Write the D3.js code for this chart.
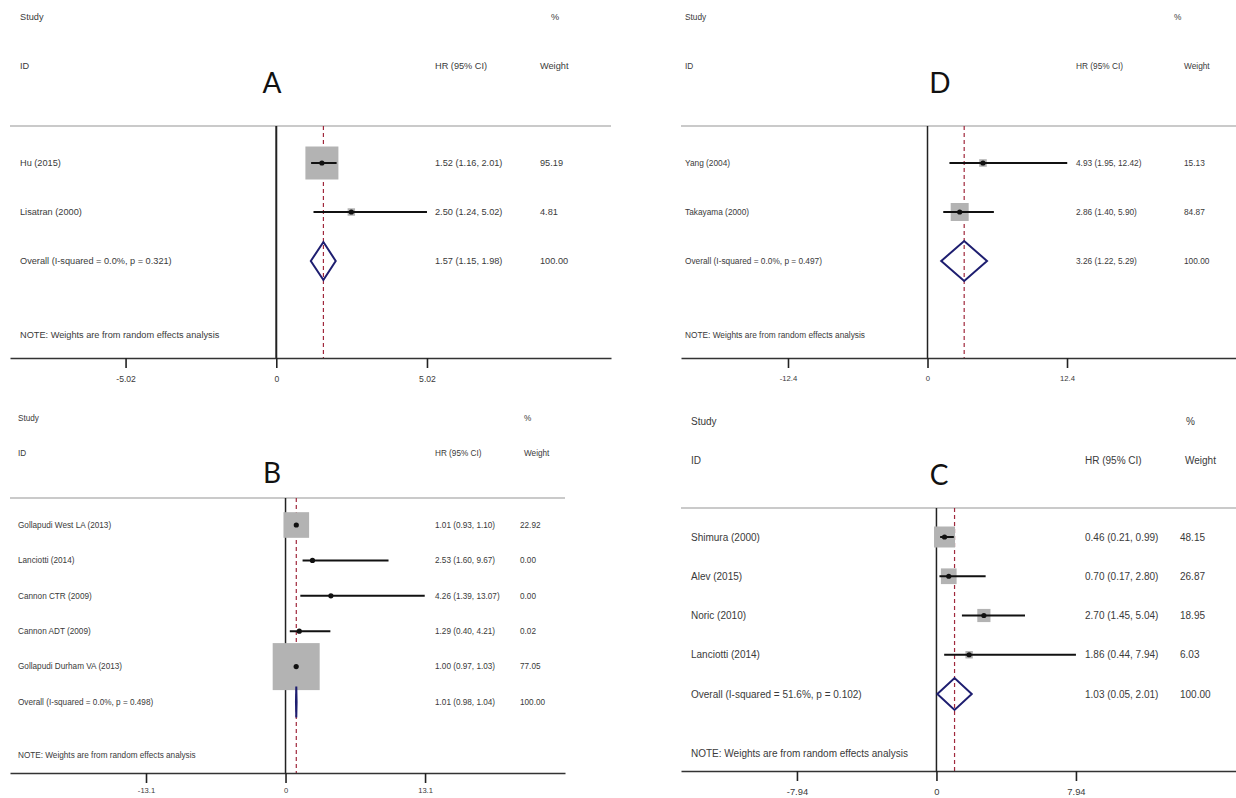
<!DOCTYPE html>
<html>
<head>
<meta charset="utf-8">
<script src="https://cdn.jsdelivr.net/npm/d3@7.9.0/dist/d3.min.js"></script>
<style>
  body { margin: 0; background: #fff; }
  svg { display: block; font-family: "Liberation Sans", Arial, sans-serif; }
  .txt { fill: #3a3a3a; }
  .letter { font-family: Lato, "Open Sans", sans-serif; fill: #111; }
</style>
</head>
<body>
<svg id="chart" width="1236" height="798"></svg>
<script>
/* ---------- data: panel A ---------- */
const studiesA = ["Hu (2015)", "Lisatran (2000)"];
const hrA      = [1.52, 2.50];
const lowA     = [1.16, 1.24];
const highA    = [2.01, 5.02];
const weightA  = [95.19, 4.81];
const overallA = [1.57, 1.15, 1.98];
const hetA     = "Overall  (I-squared = 0.0%, p = 0.321)";
const ticksA   = [-5.02, 0, 5.02];

/* ---------- data: panel D ---------- */
const studiesD = ["Yang (2004)", "Takayama (2000)"];
const hrD      = [4.93, 2.86];
const lowD     = [1.95, 1.40];
const highD    = [12.42, 5.90];
const weightD  = [15.13, 84.87];
const overallD = [3.26, 1.22, 5.29];
const hetD     = "Overall  (I-squared = 0.0%, p = 0.497)";
const ticksD   = [-12.4, 0, 12.4];

/* ---------- data: panel B ---------- */
const studiesB = ["Gollapudi West LA (2013)", "Lanciotti (2014)", "Cannon CTR (2009)",
                  "Cannon ADT (2009)", "Gollapudi Durham VA (2013)"];
const hrB      = [1.01, 2.53, 4.26, 1.29, 1.00];
const lowB     = [0.93, 1.60, 1.39, 0.40, 0.97];
const highB    = [1.10, 9.67, 13.07, 4.21, 1.03];
const weightB  = [22.92, 0.00, 0.00, 0.02, 77.05];
const overallB = [1.01, 0.98, 1.04];
const hetB     = "Overall  (I-squared = 0.0%, p = 0.498)";
const ticksB   = [-13.1, 0, 13.1];

/* ---------- data: panel C ---------- */
const studiesC = ["Shimura (2000)", "Alev (2015)", "Noric (2010)", "Lanciotti (2014)"];
const hrC      = [0.46, 0.70, 2.70, 1.86];
const lowC     = [0.21, 0.17, 1.45, 0.44];
const highC    = [0.99, 2.80, 5.04, 7.94];
const weightC  = [48.15, 26.87, 18.95, 6.03];
const overallC = [1.03, 0.05, 2.01];
const hetC     = "Overall  (I-squared = 51.6%, p = 0.102)";
const ticksC   = [-7.94, 0, 7.94];

const noteText = "NOTE: Weights are from random effects analysis";

/* ---------- layout per panel ---------- */
const panels = [
  { letter: "A", studies: studiesA, hr: hrA, low: lowA, high: highA, weight: weightA,
    overall: overallA, het: hetA, ticks: ticksA,
    xRange: [10, 611], xDomain: [-8.87, 11.15],
    labelX: 20, hrX: 435, wX: 540, wHeadX: 540, pctX: 551,
    studyY: 17, idY: 66, letterX: 272, letterY: 83, ruleY: 126,
    firstRow: 163, overallY: 261, noteY: 335, axisY: 358, tickPad: 8,
    font: 9.2, boxMax: 33, diamondH: 19, zeroW: 2 },
  { letter: "D", studies: studiesD, hr: hrD, low: lowD, high: highD, weight: weightD,
    overall: overallD, het: hetD, ticks: ticksD,
    xRange: [681, 1236], xDomain: [-21.91, 27.42],
    labelX: 685, hrX: 1076, wX: 1184, wHeadX: 1184, pctX: 1174,
    studyY: 17, idY: 66, letterX: 940, letterY: 83, ruleY: 126,
    firstRow: 163, overallY: 261, noteY: 335, axisY: 358, tickPad: 8,
    font: 8.3, boxMax: 18, diamondH: 20, zeroW: 1.5 },
  { letter: "B", studies: studiesB, hr: hrB, low: lowB, high: highB, weight: weightB,
    overall: overallB, het: hetB, ticks: ticksB,
    xRange: [10, 565], xDomain: [-25.87, 26.24],
    labelX: 18, hrX: 435, wX: 520, wHeadX: 524, pctX: 524,
    studyY: 418, idY: 453, letterX: 272, letterY: 473, ruleY: 498,
    firstRow: 525, overallY: 702, noteY: 755, axisY: 773, tickPad: 5,
    font: 8.2, boxMax: 47, diamondH: 15.5, zeroW: 1.5 },
  { letter: "C", studies: studiesC, hr: hrC, low: lowC, high: highC, weight: weightC,
    overall: overallC, het: hetC, ticks: ticksC,
    xRange: [681, 1236], xDomain: [-14.54, 17.05],
    labelX: 691, hrX: 1085, wX: 1180, wHeadX: 1185, pctX: 1186,
    studyY: 421, idY: 460, letterX: 939, letterY: 475, ruleY: 508,
    firstRow: 537, overallY: 694, noteY: 753, axisY: 771, tickPad: 7,
    font: 10, boxMax: 21, diamondH: 16, zeroW: 1.5 },
];

const svg = d3.select("#chart");
const f2 = d3.format(".2f");

function drawPanel(p) {
  const g = svg.append("g").attr("class", "panel-" + p.letter);
  const x = d3.scaleLinear().domain(p.xDomain).range(p.xRange);
  const n = p.studies.length;
  const y = d3.scalePoint().domain(d3.range(n + 1)).range([p.firstRow, p.overallY]);
  const size = d3.scaleSqrt().domain([0, d3.max(p.weight)]).range([0, p.boxMax]);

  const rows = p.studies.map((s, i) => ({
    name: s, hr: p.hr[i], low: p.low[i], high: p.high[i], w: p.weight[i], i
  }));

  // header rule
  g.append("line")
    .attr("x1", p.xRange[0]).attr("x2", p.xRange[1])
    .attr("y1", p.ruleY).attr("y2", p.ruleY)
    .attr("stroke", "#b8b8b8").attr("stroke-width", 1.5);

  // no-effect line
  g.append("line")
    .attr("x1", x(0)).attr("x2", x(0))
    .attr("y1", p.ruleY).attr("y2", p.axisY)
    .attr("stroke", "#222").attr("stroke-width", p.zeroW);

  // overall estimate line (dashed)
  g.append("line")
    .attr("x1", x(p.overall[0])).attr("x2", x(p.overall[0]))
    .attr("y1", p.ruleY).attr("y2", p.axisY)
    .attr("stroke", "#a0283c").attr("stroke-width", 1.2)
    .attr("stroke-dasharray", "4,3");

  // weight boxes
  g.append("g").selectAll("rect")
    .data(rows)
    .join("rect")
    .attr("x", d => x(d.hr) - size(d.w) / 2)
    .attr("y", d => y(d.i) - size(d.w) / 2)
    .attr("width", d => size(d.w))
    .attr("height", d => size(d.w))
    .attr("fill", "#b3b3b3");

  // CI lines
  g.append("g").selectAll("line")
    .data(rows)
    .join("line")
    .attr("x1", d => x(d.low)).attr("x2", d => x(d.high))
    .attr("y1", d => y(d.i)).attr("y2", d => y(d.i))
    .attr("stroke", "#111").attr("stroke-width", 2);

  // point estimates
  g.append("g").selectAll("circle")
    .data(rows)
    .join("circle")
    .attr("cx", d => x(d.hr)).attr("cy", d => y(d.i))
    .attr("r", 2.6).attr("fill", "#111");

  // overall diamond
  const oy = y(n);
  const [est, lo, hi] = p.overall;
  g.append("path")
    .attr("d", `M${x(lo)},${oy}L${x(est)},${oy - p.diamondH}L${x(hi)},${oy}L${x(est)},${oy + p.diamondH}Z`)
    .attr("fill", "none").attr("stroke", "#1e1e70").attr("stroke-width", 2);

  // axis
  const axis = g.append("g")
    .attr("transform", `translate(0,${p.axisY})`)
    .call(d3.axisBottom(x)
      .tickValues(p.ticks)
      .tickFormat(d => String(d))
      .tickSize(10).tickSizeOuter(0).tickPadding(p.tickPad));
  axis.select(".domain").attr("stroke", "#333").attr("stroke-width", 1.6);
  axis.selectAll(".tick line").attr("stroke", "#222").attr("stroke-width", 1.6);
  axis.selectAll(".tick text")
    .attr("fill", "#3a3a3a")
    .style("font-family", '"Liberation Sans", Arial, sans-serif')
    .style("font-size", (p.font - 0.6) + "px");

  // texts
  const txt = (xp, yp, s, size) => g.append("text")
    .attr("class", "txt")
    .attr("x", xp).attr("y", yp).attr("dy", "0.35em")
    .style("font-size", (size || p.font) + "px")
    .text(s);

  txt(p.labelX, p.studyY, "Study");
  txt(p.pctX, p.studyY, "%");
  txt(p.labelX, p.idY, "ID");
  txt(p.hrX, p.idY, "HR (95% CI)");
  txt(p.wHeadX, p.idY, "Weight");

  g.append("text")
    .attr("class", "letter")
    .attr("x", p.letterX).attr("y", p.letterY).attr("dy", "0.36em")
    .attr("text-anchor", "middle")
    .style("font-size", "28px")
    .text(p.letter);

  rows.forEach(d => {
    txt(p.labelX, y(d.i), d.name);
    txt(p.hrX, y(d.i), `${f2(d.hr)} (${f2(d.low)}, ${f2(d.high)})`);
    txt(p.wX, y(d.i), f2(d.w));
  });
  txt(p.labelX, oy, p.het);
  txt(p.hrX, oy, `${f2(est)} (${f2(lo)}, ${f2(hi)})`);
  txt(p.wX, oy, f2(100));
  txt(p.labelX, p.noteY, noteText);
}

panels.forEach(drawPanel);
</script>
</body>
</html>
